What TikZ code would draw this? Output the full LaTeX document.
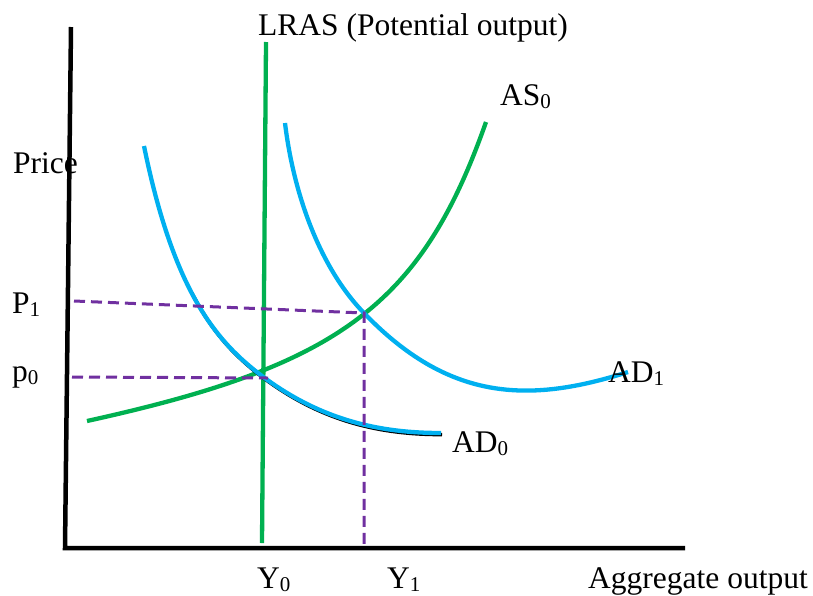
\documentclass[tikz,border=0pt]{standalone}
\usepackage{fontspec}
\setmainfont{Liberation Serif}
\definecolor{asgreen}{HTML}{00B050}
\definecolor{adblue}{HTML}{00B0F0}
\definecolor{dpurple}{HTML}{7030A0}
\newcommand{\lowsub}[1]{\raisebox{-3pt}{\fontsize{21}{21}\selectfont #1}}
\begin{document}
\begin{tikzpicture}[x=1pt,y=-1pt,
  lbl/.style={anchor=base west,inner sep=0pt,font=\fontsize{31.5}{36}\selectfont},
  axisline/.style={line width=4.5pt,black},
  greencurve/.style={line width=4.3pt,asgreen},
  bluecurve/.style={line width=4.3pt,adblue},
  guide/.style={line width=3pt,dpurple,dash pattern=on 11pt off 6pt}]
\useasboundingbox (0,0) rectangle (813,595);
% axes
\coordinate (ytop) at (71,27);
\coordinate (origin) at (65,548);
\coordinate (xend) at (685,548);
\draw[axisline] (ytop) -- (origin) -- (xend);
% LRAS
\coordinate (lrastop) at (266,42);
\coordinate (lrasbot) at (262,543);
\draw[greencurve] (lrastop) -- (lrasbot);
% AS0
\draw[greencurve] (87,421) .. controls (337,366) and (421,307) .. (486,122);
% AD0 shadow
\begin{scope}
\clip (185,292) rectangle (470,450);
\draw[line width=3.5pt,black,shift={(1pt,-1.6pt)}] (144,146) .. controls (174,293) and (217,342) .. (262,376) .. controls (322,421) and (381,433) .. (441,433);
\end{scope}
% AD0
\draw[bluecurve] (144,146) .. controls (174,293) and (217,342) .. (262,376) .. controls (322,421) and (381,433) .. (441,433);
% AD1
\draw[bluecurve] (285,123) .. controls (293,190) and (318,265) .. (363,312) .. controls (448,401) and (528,404) .. (628,372);
% guides
\coordinate (E0) at (268,378);
\coordinate (E1) at (364,313);
\coordinate (P1a) at (74,301);
\coordinate (P0a) at (72,377);
\coordinate (Y1a) at (364,546);
\draw[guide] (P1a) -- (E1) -- (Y1a);
\draw[guide] (P0a) -- (E0);
% labels
\node[lbl] (lras) at (258,35) {LRAS (Potential output)};
\node[lbl] (price) at (13,173) {Price};
\node[lbl] (p1) at (12,313) {P\lowsub{1}};
\node[lbl] (p0) at (12,381) {p\lowsub{0}};
\node[lbl] (as0) at (500,105) {AS\lowsub{0}};
\node[lbl] (ad1) at (608,382) {AD\lowsub{1}};
\node[lbl] (ad0) at (452,452) {AD\lowsub{0}};
\node[lbl] (y0) at (257,588) {Y\lowsub{0}};
\node[lbl] (y1) at (387,588) {Y\lowsub{1}};
\node[lbl] (aggout) at (588,588) {Aggregate output};
\end{tikzpicture}
\end{document}
